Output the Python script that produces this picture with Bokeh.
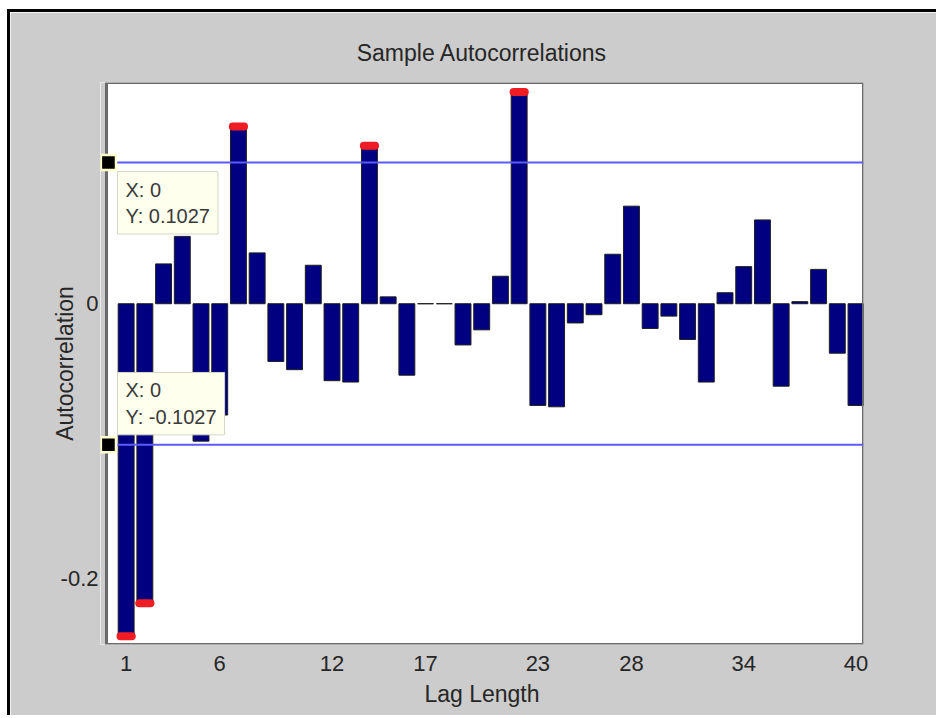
from bokeh.plotting import figure
from bokeh.models import Range1d, Label, BoxAnnotation, FixedTicker, ColumnDataSource
from bokeh.embed import file_html
from bokeh.resources import INLINE

# Sample autocorrelation by lag
lags = list(range(1, 41))
acf = [-0.242, -0.218, 0.029, 0.049, -0.100, -0.081, 0.129, 0.037, -0.042, -0.048,
       0.028, -0.056, -0.057, 0.115, 0.005, -0.052, 0.0, 0.0, -0.030, -0.019,
       0.020, 0.154, -0.074, -0.075, -0.014, -0.008, 0.036, 0.071, -0.018, -0.009,
       -0.026, -0.057, 0.008, 0.027, 0.061, -0.060, 0.0015, 0.025, -0.036, -0.074]

# Approximate 95% confidence bound
bound = 0.1027

x_ticks = [1, 6, 12, 17, 23, 28, 34, 40]
y_ticks = [-0.2, 0]

# Visible axes box (the frame starts a little further left so the
# data-tip markers at x = 0 can sit over the box edge)
x_left, x_right = -0.05, 40.4

FONT = "Liberation Sans"
TXT = "#262626"
PANEL = "#cccccc"

p = figure(width=929, height=706,
           x_range=Range1d(-0.37, x_right), y_range=Range1d(-0.248, 0.161),
           title="Sample Autocorrelations",
           x_axis_label="Lag Length", y_axis_label="Autocorrelation",
           output_backend="svg", toolbar_location=None,
           min_border_left=90, min_border_right=76,
           min_border_top=70, min_border_bottom=74)
p.styles = {"position": "relative", "left": "7px", "top": "9px",
            "border-left": "3px solid black", "border-top": "3px solid black"}

p.border_fill_color = PANEL
p.background_fill_color = "white"
p.outline_line_color = None
p.grid.visible = False

p.title.text_font = FONT
p.title.text_font_size = "23px"
p.title.text_font_style = "normal"
p.title.text_color = TXT
p.title.align = "center"
p.title.standoff = 33

for ax in (p.xaxis[0], p.yaxis[0]):
    ax.axis_line_color = None
    ax.major_tick_line_color = None
    ax.minor_tick_line_color = None
    ax.major_tick_out = 0
    ax.major_label_text_font = FONT
    ax.major_label_text_font_size = "22px"
    ax.major_label_text_color = TXT
    ax.axis_label_text_font = FONT
    ax.axis_label_text_font_size = "23px"
    ax.axis_label_text_font_style = "normal"
    ax.axis_label_text_color = TXT

p.xaxis.ticker = FixedTicker(ticks=x_ticks)
p.xaxis.major_label_standoff = 11
p.xaxis.axis_label_standoff = 7
p.yaxis.ticker = FixedTicker(ticks=y_ticks)
p.yaxis.major_label_overrides = {-0.2: "-0.2", 0: "0"}
p.yaxis.major_label_standoff = 2
p.yaxis.axis_label_standoff = -20

# Panel-coloured strip left of the axes box, then the box outline
p.add_layout(BoxAnnotation(right=x_left, fill_color=PANEL, fill_alpha=1,
                           line_color=None))
p.add_layout(BoxAnnotation(left=x_left, fill_color=None, fill_alpha=0,
                           line_color="#6a6a6a", line_alpha=1, line_width=3))

# Autocorrelation bars
src = ColumnDataSource(dict(lag=lags, acf=acf))
p.vbar(x="lag", top="acf", bottom=0, width=0.85, source=src,
       fill_color="#000080", line_color="#1e1e1e", line_width=1)

# Confidence bounds
for loc in (bound, -bound):
    p.add_layout(BoxAnnotation(left=x_left, bottom=loc, top=loc,
                               fill_alpha=0, line_color="#5b5bff",
                               line_alpha=1, line_width=2))

# Red caps on lags exceeding the bounds
sig_lag = [l for l, a in zip(lags, acf) if abs(a) > bound]
sig_acf = [a for a in acf if abs(a) > bound]
p.segment(x0=[l - 0.3 for l in sig_lag], x1=[l + 0.3 for l in sig_lag],
          y0=sig_acf, y1=sig_acf, line_color="#f01c24",
          line_width=8, line_cap="round")

# Data tips on the bounds
for yv, anchor, yoff in ((bound, "top_left", -9), (-bound, "bottom_left", 10)):
    p.add_layout(Label(x=0, y=yv, x_offset=1, text=" ", text_font_size="4px",
                       anchor="center", background_fill_color="black",
                       border_line_color="#ffffcc", border_line_width=2.5,
                       padding=(7, 5)))
    p.add_layout(Label(x=0, y=yv, x_offset=10, y_offset=yoff, anchor=anchor,
                       text=f"X: 0\nY: {yv:.4f}", text_font=FONT,
                       text_font_size="20px", text_color="#3a3a3a",
                       background_fill_color="#ffffee",
                       border_line_color="#d6d6c6", border_line_width=1,
                       padding=(8, 7)))

open("out.html", "w").write(file_html(p, INLINE))
